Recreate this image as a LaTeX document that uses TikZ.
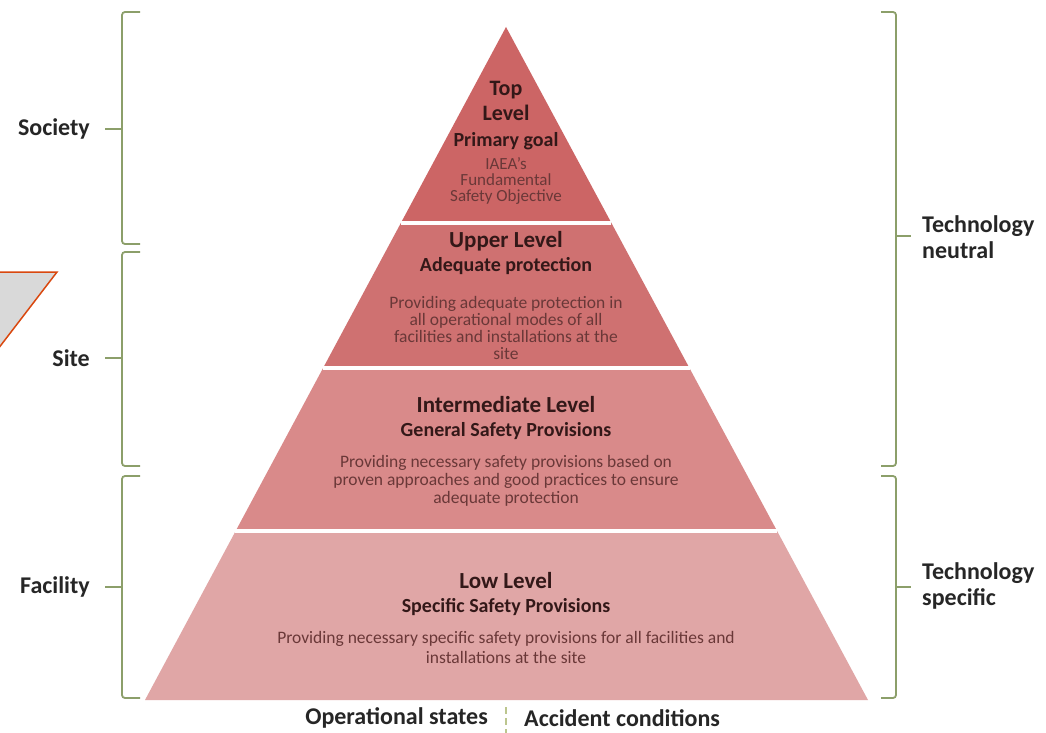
\documentclass[tikz,border=0pt]{standalone}
\usepackage{fontspec}
\setmainfont{Carlito}
\usetikzlibrary{calc}
\definecolor{bandtop}{HTML}{CC6565}
\definecolor{bandup}{HTML}{CF7171}
\definecolor{bandmid}{HTML}{D98A8A}
\definecolor{bandlow}{HTML}{E0A6A6}
\definecolor{titlec}{HTML}{331818}
\definecolor{bodyc}{HTML}{6A3838}
\definecolor{sidec}{HTML}{262626}
\definecolor{braceg}{HTML}{8C9F6A}
\definecolor{dividc}{HTML}{BCC68E}
\definecolor{callgray}{HTML}{D9D9D9}
\definecolor{callred}{HTML}{D9480F}
\tikzset{
    lvltitle/.style={font=\bfseries\fontsize{23}{23.5}\selectfont, text=titlec, align=center, inner sep=0pt},
    lvlbody/.style={font=\fontsize{17.5}{16.7}\selectfont, text=bodyc, align=center, inner sep=0pt},
    sidelabel/.style={font=\bfseries\fontsize{24}{26}\selectfont, text=sidec, align=left, inner sep=0pt},
    brace/.style={draw=braceg, line width=1.8pt, rounded corners=3pt},
    gapline/.style={draw=white, line width=4pt}
}
\newcommand{\subttl}{\fontsize{20}{23.5}\selectfont}

\begin{document}
\begin{tikzpicture}[x=1pt, y=-1pt]
    \useasboundingbox[fill=white] (0,0) rectangle (1046,733);
    %pyramid
    \coordinate (apex) at (506,27);
    \coordinate (bl) at (145,700);
    \coordinate (br) at (868,700);
    \foreach \a/\b/\col in {0/0.2905/bandtop, 0.2905/0.5074/bandup, 0.5074/0.7496/bandmid, 0.7496/1/bandlow}
        \fill[\col] ($(apex)!\a!(bl)$) -- ($(apex)!\b!(bl)$) -- ($(apex)!\b!(br)$) -- ($(apex)!\a!(br)$) -- cycle;
    \foreach \t in {0.2905, 0.5074, 0.7496}
        \draw[gapline] ($(apex)!\t!(bl)$) -- ($(apex)!\t!(br)$);
    %level texts
    \node[lvltitle, font=\bfseries\fontsize{22}{24.5}\selectfont] (toptitle) at (506,116) {Top\\Level\\[2pt]{\subttl Primary goal}};
    \node[lvlbody, font=\fontsize{17}{16}\selectfont] (topbody) at (506,181) {IAEA's\\Fundamental\\Safety Objective};
    \node[lvltitle] (uptitle) at (506,253) {Upper Level\\{\subttl Adequate protection}};
    \node[lvlbody] (upbody) at (506,328) {Providing adequate protection in\\all operational modes of all\\facilities and installations at the\\site};
    \node[lvltitle] (midtitle) at (506,418) {Intermediate Level\\{\subttl General Safety Provisions}};
    \node[lvlbody, font=\fontsize{17.5}{18}\selectfont] (midbody) at (506,481) {Providing necessary safety provisions based on\\proven approaches and good practices to ensure\\adequate protection};
    \node[lvltitle] (lowtitle) at (506,594) {Low Level\\{\subttl Specific Safety Provisions}};
    \node[lvlbody, font=\fontsize{17.5}{20}\selectfont] (lowbody) at (506,647) {Providing necessary specific safety provisions for all facilities and\\installations at the site};
    %left braces
    \draw[brace] (140,12) -- (122,12) -- (122,244) -- (140,244);
    \draw[brace] (105,129) -- (122,129);
    \node[sidelabel, anchor=east] (society) at (90,129) {Society};
    \draw[brace] (140,252) -- (122,252) -- (122,466) -- (140,466);
    \draw[brace] (105,358) -- (122,358);
    \node[sidelabel, anchor=east] (site) at (90,358) {Site};
    \draw[brace] (140,476) -- (122,476) -- (122,698) -- (140,698);
    \draw[brace] (105,587) -- (122,587);
    \node[sidelabel, anchor=east] (facility) at (90,587) {Facility};
    %right braces
    \draw[brace] (881,12) -- (896,12) -- (896,466) -- (881,466);
    \draw[brace] (896,236) -- (911,236);
    \node[sidelabel, anchor=west] (neutral) at (922,237) {Technology\\neutral};
    \draw[brace] (881,476) -- (896,476) -- (896,698) -- (881,698);
    \draw[brace] (896,587) -- (911,587);
    \node[sidelabel, anchor=west] (specific) at (922,586) {Technology\\specific};
    %bottom
    \node[sidelabel, anchor=east] (opstates) at (488,718) {Operational states};
    \node[sidelabel, anchor=west] (accident) at (524,718) {Accident conditions};
    \draw[dividc, line width=2pt, dash pattern=on 7pt off 4pt] (506,707) -- (506,733);
    %callout
    \fill[callgray] (-2,272) -- (57,272) -- (-2,349) -- cycle;
    \draw[callred, line width=1.5pt] (-2,272) -- (57,272) -- (-2,349);
\end{tikzpicture}
\end{document}
